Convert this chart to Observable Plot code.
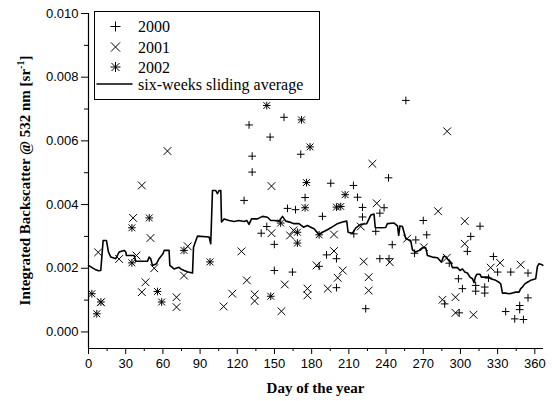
<!DOCTYPE html>
<html><head><meta charset="utf-8">
<script src="https://cdn.jsdelivr.net/npm/d3@7"></script>
<script src="https://cdn.jsdelivr.net/npm/@observablehq/plot@0.6"></script>
<style>
html,body{margin:0;padding:0;background:#fff;}
#chart{position:relative;width:552px;height:401px;}
</style></head><body><div id="chart"></div>
<script>
// ---- data: [day of year, integrated backscatter (sr^-1)] ----
const obs2000 = [[129.5,0.00650],[146.5,0.00612],[132,0.00552],[132,0.00502],[125.5,0.00413],[143.8,0.00331],[139.3,0.00310],[149.9,0.00275],[149.9,0.00193],[157.7,0.00674],[171.2,0.00558],[256,0.00727],[242,0.00484],[195.4,0.00467],[213.7,0.00460],[217,0.00423],[174.7,0.00422],[238.4,0.00390],[221,0.00391],[221,0.00361],[235,0.00373],[160.5,0.00388],[167,0.00384],[188.7,0.00363],[214,0.00308],[231.7,0.00316],[270,0.00350],[272.8,0.00305],[264,0.00289],[263,0.00247],[245,0.00274],[192,0.00242],[200,0.00230],[235,0.00230],[242.4,0.00230],[186,0.00206],[164.5,0.00188],[200,0.00139],[223.6,0.00073],[315.8,0.00332],[308.3,0.00300],[305.6,0.00253],[291,0.00216],[326.6,0.00237],[330,0.00188],[340.6,0.00188],[354.5,0.00185],[298.4,0.00167],[322.6,0.00169],[301.6,0.00136],[312.3,0.00146],[312.3,0.00128],[319.6,0.00141],[319.6,0.00122],[354.5,0.00107],[287.3,0.00088],[299,0.00060],[336.5,0.00064],[347.8,0.00083],[347.8,0.00070],[343.8,0.00041],[350.8,0.00039]];
const obs2001 = [[63.7,0.00568],[43,0.00460],[36,0.00358],[50,0.00295],[7.8,0.00250],[24.7,0.00229],[38.7,0.00240],[53,0.00200],[80,0.00269],[77,0.00177],[46,0.00156],[43,0.00125],[71,0.00109],[71,0.00078],[10,0.00093],[123.4,0.00253],[127.7,0.00162],[116,0.00120],[109,0.00080],[134,0.00118],[134,0.00097],[147.6,0.00458],[147.6,0.00310],[229,0.00528],[232.5,0.00404],[165.3,0.00319],[162.6,0.00303],[198,0.00306],[219.6,0.00331],[257,0.00293],[270.6,0.00266],[198,0.00254],[222,0.00221],[243,0.00219],[184,0.00209],[205,0.00193],[201,0.00170],[226,0.00172],[158.3,0.00149],[176.6,0.00136],[176.6,0.00115],[193,0.00136],[226,0.00130],[155.6,0.00065],[289.3,0.00630],[282,0.00379],[303.5,0.00348],[303.5,0.00277],[289,0.00233],[332,0.00217],[324.4,0.00202],[348.6,0.00211],[285.5,0.00101],[296,0.00109],[296,0.00060],[310.5,0.00054]];
const obs2002 = [[2.7,0.00120],[6.7,0.00057],[10,0.00094],[35,0.00327],[49,0.00358],[35,0.00217],[55.6,0.00127],[59,0.00094],[77,0.00256],[98,0.00220],[147,0.00112],[143.8,0.00711],[171.8,0.00666],[178.7,0.00581],[175.8,0.00469],[207,0.00431],[174.7,0.00390],[200,0.00392],[203.5,0.00394],[155,0.00342],[168.5,0.00313],[168.5,0.00279],[186,0.00305]];
const slidingAvg = [[0,0.00209],[5.9,0.00195],[8.1,0.00192],[9.9,0.00193],[11.8,0.00287],[14.5,0.00287],[16.1,0.00251],[18,0.00235],[22,0.00230],[24.7,0.00251],[28.7,0.00256],[30.1,0.00251],[30.6,0.00240],[36.8,0.00240],[38.1,0.00222],[47.6,0.00222],[48.9,0.00235],[50.2,0.00230],[51.6,0.00209],[54.8,0.00214],[56.9,0.00230],[60.2,0.00246],[61,0.00256],[65,0.00256],[65.6,0.00209],[69,0.00198],[73,0.00203],[74.4,0.00198],[77.1,0.00193],[80.3,0.00188],[83.9,0.00185],[84.7,0.00266],[87.9,0.00301],[97.3,0.00298],[98.6,0.00277],[100,0.00444],[102.7,0.00444],[104,0.00434],[105.3,0.00444],[106.7,0.00444],[107.3,0.00345],[109.4,0.00355],[113.4,0.00350],[117.4,0.00347],[121.2,0.00350],[125.5,0.00347],[127.7,0.00350],[129.5,0.00338],[131.5,0.00355],[136.3,0.00355],[140.3,0.00363],[144.4,0.00360],[147,0.00350],[149.7,0.00350],[153.7,0.00348],[156.5,0.00363],[159.1,0.00348],[163.1,0.00344],[165.8,0.00340],[169.8,0.00340],[173.4,0.00329],[176.6,0.00334],[179.3,0.00329],[181.9,0.00324],[186,0.00306],[188.7,0.00313],[192.7,0.00321],[195.4,0.00327],[200.8,0.00340],[204.8,0.00345],[208.3,0.00348],[209.4,0.00313],[212.9,0.00310],[215.6,0.00327],[219.6,0.00338],[224.4,0.00340],[227.7,0.00367],[230.3,0.00370],[231.3,0.00328],[235.7,0.00327],[239.8,0.00328],[241,0.00340],[246.5,0.00342],[249.2,0.00333],[250.2,0.00303],[251.2,0.00333],[253.2,0.00331],[254.5,0.00313],[255.9,0.00293],[259.9,0.00287],[261.3,0.00258],[263.9,0.00251],[266.6,0.00256],[269.4,0.00265],[272,0.00264],[273.4,0.00240],[277.4,0.00235],[281.5,0.00233],[284.7,0.00219],[286.3,0.00237],[288.1,0.00237],[290,0.00227],[292.2,0.00219],[293.5,0.00202],[297.6,0.00202],[299.7,0.00193],[301.6,0.00198],[303.5,0.00188],[305.6,0.00185],[307.7,0.00172],[309.7,0.00167],[311,0.00155],[312,0.00172],[313.2,0.00181],[315.8,0.00181],[316.9,0.00172],[323.1,0.00172],[324.4,0.00167],[328.5,0.00162],[331.1,0.00156],[332.5,0.00151],[333.9,0.00122],[336.5,0.00122],[339.2,0.00120],[341.9,0.00122],[344.6,0.00125],[347.3,0.00125],[348.6,0.00136],[350,0.00141],[351.9,0.00151],[354,0.00156],[356.7,0.00162],[360.7,0.00167],[362.1,0.00206],[363.4,0.00214],[365.3,0.00212],[366.5,0.00209]];

const xTicks = [0,30,60,90,120,150,180,210,240,270,300,330,360];
const xMinorTicks = [15,45,75,105,135,165,195,225,255,285,315,345];
const yTicks = [0,0.002,0.004,0.006,0.008,0.010];
const yMinorTicks = [0.001,0.003,0.005,0.007,0.009];
const xDomain = [0, 367];
const yDomain = [-0.00052, 0.010];
const legendLabels = ["2000","2001","2002","six-weeks sliding average"];
const xTitle = "Day of the year";

const serif = "'Liberation Serif','Times New Roman',serif";
const pt = a => ({day: a[0], val: a[1]});

const plot = Plot.plot({
  width: 552, height: 401,
  marginLeft: 88, marginRight: 9, marginTop: 13, marginBottom: 53,
  x: {domain: xDomain},
  y: {domain: yDomain},
  style: {fontFamily: "'Liberation Sans',Arial,sans-serif", fontSize: "13px", background: "white", color: "black", overflow: "visible"},
  marks: [
    Plot.ruleY([yDomain[0]], {stroke: "black", strokeWidth: 1.2}),
    Plot.ruleX([xDomain[0]], {stroke: "black", strokeWidth: 1.2}),
    Plot.axisX({ticks: xTicks, tickSize: 6, tickPadding: 4, tickFormat: d => String(d), label: null, stroke: "black", fill: "black", fontSize: 13}),
    Plot.axisX({ticks: xMinorTicks, tickSize: 3, fill: "none", label: null, stroke: "black"}),
    Plot.axisY({ticks: yTicks, tickSize: 7, tickPadding: 3, tickFormat: d3.format(".3f"), label: null, stroke: "black", fill: "black", fontSize: 13}),
    Plot.axisY({ticks: yMinorTicks, tickSize: 4, fill: "none", label: null, stroke: "black"}),
    Plot.line(slidingAvg.map(pt), {x: "day", y: "val", stroke: "black", strokeWidth: 1.6}),
    Plot.dot(obs2000.map(pt), {x: "day", y: "val", symbol: "plus", r: 2.6, stroke: "black", strokeWidth: 1}),
    Plot.dot(obs2001.map(pt), {x: "day", y: "val", symbol: "times", r: 3.6, stroke: "black", strokeWidth: 1}),
    Plot.dot(obs2002.map(pt), {x: "day", y: "val", symbol: "plus", r: 2.6, stroke: "black", strokeWidth: 1}),
    Plot.dot(obs2002.map(pt), {x: "day", y: "val", symbol: "times", r: 3.2, stroke: "black", strokeWidth: 1})
  ]
});
document.getElementById("chart").appendChild(plot);

const svg = d3.select(plot);
// axis titles
svg.append("text").attr("x", 315.5).attr("y", 393).attr("text-anchor", "middle")
  .style("font-family", serif).style("font-weight", "bold").style("font-size", "15px").text(xTitle);
const yl = svg.append("text").attr("transform", "translate(30,180.5) rotate(-90)").attr("text-anchor", "middle")
  .style("font-family", serif).style("font-weight", "bold").style("font-size", "15px");
yl.append("tspan").text("Integrated Backscatter @ 532 nm [sr");
yl.append("tspan").attr("dy", -6).style("font-size", "10px").text("-1");
yl.append("tspan").attr("dy", 6).text("]");

// legend
const lg = svg.append("g").attr("transform", "translate(94.5,11.5)");
lg.append("rect").attr("width", 225).attr("height", 88).attr("fill", "white").attr("stroke", "black").attr("stroke-width", 1);
const rowsY = [15, 35.5, 55.5, 72.5];
const sym = (g, type, cx, cy) => {
  const h = 5;
  if (type === "plus" || type === "ast") g.append("path").attr("d", `M${cx-h},${cy}H${cx+h}M${cx},${cy-h}V${cy+h}`).attr("stroke","black").attr("fill","none");
  if (type === "times" || type === "ast") { const k = type === "ast" ? 4 : 4.6; g.append("path").attr("d", `M${cx-k},${cy-k}L${cx+k},${cy+k}M${cx-k},${cy+k}L${cx+k},${cy-k}`).attr("stroke","black").attr("fill","none"); }
};
sym(lg, "plus", 21, rowsY[0]);
sym(lg, "times", 21, rowsY[1]);
sym(lg, "ast", 21, rowsY[2]);
lg.append("line").attr("x1", 2).attr("x2", 38).attr("y1", rowsY[3]).attr("y2", rowsY[3]).attr("stroke","black").attr("stroke-width",1.6);
legendLabels.forEach((t, i) => {
  lg.append("text").attr("x", 43.5).attr("y", rowsY[i] + 5.5).attr("text-anchor", "start")
    .style("font-family", serif).style("font-size", "16px").text(t);
});
</script>
</body></html>
